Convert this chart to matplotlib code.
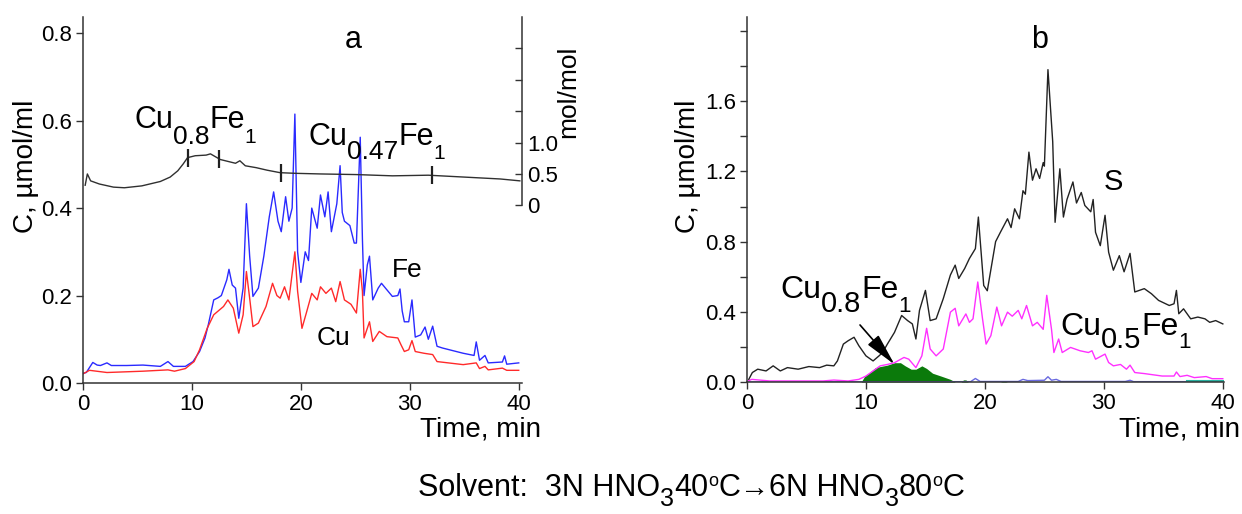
import matplotlib
matplotlib.use('Agg')
import matplotlib.pyplot as plt
import numpy as np

plt.rcParams['font.family'] = ['Liberation Sans', 'DejaVu Sans']

# ---------------- data: panel a ----------------
fe_t = [0.0, 0.3, 0.9, 1.3, 1.6, 2.2, 2.6, 4.0, 5.5, 7.1, 7.8, 8.3, 9.4, 10.1, 10.7, 11.2, 11.5, 12.0, 12.4,
        12.7, 13.2, 13.4, 13.7, 14.0, 14.3, 14.7, 15.0, 15.3, 15.6, 16.1, 16.6, 17.1, 17.5, 17.9, 18.2, 18.6,
        18.9, 19.2, 19.45, 19.7, 20.0, 20.4, 20.7, 21.0, 21.5, 21.8, 22.2, 22.5, 22.8, 23.3, 23.6, 23.8, 24.0,
        24.5, 24.9, 25.1, 25.45, 25.65, 25.8, 26.1, 26.3, 26.6, 27.1, 27.4, 27.9, 28.4, 28.9, 29.1, 29.3, 29.5,
        29.9, 30.2, 30.5, 31.0, 31.4, 31.7, 32.1, 32.5, 33.0, 34.9, 35.9, 36.1, 36.4, 36.9, 37.2, 38.5, 38.7,
        38.9, 40.0]
fe_v = [0.022, 0.024, 0.047, 0.041, 0.040, 0.046, 0.040, 0.040, 0.041, 0.038, 0.049, 0.038, 0.038, 0.049, 0.072,
        0.103, 0.133, 0.19, 0.195, 0.20, 0.236, 0.26, 0.224, 0.217, 0.148, 0.217, 0.41, 0.29, 0.198, 0.217, 0.29,
        0.38, 0.437, 0.37, 0.346, 0.426, 0.37, 0.40, 0.615, 0.30, 0.23, 0.30, 0.28, 0.40, 0.354, 0.43, 0.38, 0.437,
        0.346, 0.41, 0.497, 0.39, 0.37, 0.36, 0.32, 0.32, 0.562, 0.33, 0.20, 0.27, 0.29, 0.19, 0.217, 0.228, 0.213,
        0.198, 0.20, 0.215, 0.165, 0.14, 0.14, 0.19, 0.105, 0.11, 0.128, 0.10, 0.13, 0.084, 0.08, 0.068, 0.063,
        0.094, 0.052, 0.063, 0.046, 0.048, 0.062, 0.043, 0.046]

cu_t = [0.0, 0.6, 2.2, 5.5, 7.8, 8.4, 9.4, 10.2, 10.7, 11.4, 12.0, 12.9, 13.3, 13.8, 14.3, 14.7, 15.0, 15.3, 15.6,
        16.1, 16.8, 17.4, 17.8, 18.1, 18.5, 18.9, 19.45, 19.7, 20.1, 20.5, 21.0, 21.5, 21.8, 22.3, 22.8, 23.2,
        23.6, 24.0, 24.6, 25.1, 25.45, 25.65, 25.8, 26.3, 26.6, 27.2, 27.9, 28.9, 29.2, 29.5, 29.9, 30.2, 30.5,
        31.3, 32.1, 32.5, 34.9, 36.1, 36.4, 36.9, 37.2, 38.5, 38.9, 40.0]
cu_v = [0.021, 0.029, 0.024, 0.027, 0.030, 0.027, 0.033, 0.049, 0.076, 0.125, 0.156, 0.175, 0.19, 0.171, 0.114,
        0.156, 0.255, 0.194, 0.129, 0.137, 0.175, 0.228, 0.20, 0.194, 0.22, 0.19, 0.30, 0.21, 0.125, 0.16, 0.205,
        0.19, 0.22, 0.205, 0.217, 0.186, 0.232, 0.19, 0.18, 0.16, 0.26, 0.21, 0.103, 0.14, 0.095, 0.118, 0.106,
        0.103, 0.087, 0.072, 0.076, 0.097, 0.072, 0.068, 0.065, 0.049, 0.042, 0.046, 0.033, 0.038, 0.030, 0.034,
        0.029, 0.029]

ratio_t = [0.2, 0.4, 0.7, 1.5, 2.8, 3.8, 5.4, 7.1, 8.0, 8.7, 9.2, 9.6, 10.3, 11.3, 11.7, 12.2, 12.6, 13.3, 14.0,
           14.4, 14.9, 15.9, 16.9, 18.1, 19.5, 21.8, 25.1, 28.4, 31.7, 35.0, 38.3, 40.1]
ratio_v = [0.32, 0.50, 0.39, 0.34, 0.29, 0.28, 0.31, 0.38, 0.45, 0.55, 0.66, 0.76, 0.79, 0.80, 0.82, 0.77, 0.73,
           0.70, 0.67, 0.71, 0.63, 0.60, 0.56, 0.52, 0.51, 0.50, 0.49, 0.47, 0.48, 0.45, 0.42, 0.39]
range_marks_t = [9.6, 12.5, 18.2, 32.0]
right_ticks = [0, 0.5, 1.0, 1.5, 2.0, 2.5]
right_labels = ['0', '0.5', '1.0', '', '', '']

# ---------------- data: panel b ----------------
s_t = [0.15, 0.45, 0.9, 1.6, 2.2, 2.8, 3.4, 4.3, 5.2, 6.1, 6.7, 7.3, 7.6, 8.1, 8.5, 9.0, 9.4, 10.0, 10.6, 11.1,
       11.4, 11.8, 12.4, 13.0, 13.5, 13.9, 14.2, 14.5, 15.0, 15.4, 15.9, 16.5, 17.1, 17.5, 17.8, 18.3, 18.7, 19.2,
       19.45, 19.9, 20.2, 20.9, 21.3, 21.9, 22.2, 22.5, 22.9, 23.2, 23.4, 23.7, 24.0, 24.3, 24.6, 24.9, 25.0,
       25.3, 25.7, 25.9, 26.3, 26.6, 26.9, 27.4, 27.7, 28.1, 28.4, 28.9, 29.1, 29.3, 29.7, 30.1, 30.4, 30.8,
       31.3, 31.7, 32.2, 32.6, 33.4, 34.0, 34.6, 35.5, 35.9, 36.1, 36.3, 36.7, 37.3, 37.9, 38.5, 38.9, 39.4, 40.0]
s_v = [0.015, 0.054, 0.073, 0.063, 0.092, 0.063, 0.082, 0.073, 0.088, 0.082, 0.096, 0.092, 0.12, 0.216, 0.235,
       0.255, 0.207, 0.149, 0.12, 0.149, 0.168, 0.216, 0.283, 0.379, 0.35, 0.331, 0.245, 0.408, 0.522, 0.35, 0.36,
       0.475, 0.61, 0.666, 0.59, 0.647, 0.704, 0.76, 0.94, 0.55, 0.52, 0.80, 0.853, 0.93, 0.88, 0.987, 0.93, 1.09,
       1.07, 1.31, 1.15, 1.215, 1.16, 1.25, 1.23, 1.78, 1.37, 0.91, 1.215, 0.94, 1.04, 1.14, 1.02, 1.08, 1.006,
       0.97, 1.04, 0.853, 0.777, 0.95, 0.74, 0.637, 0.72, 0.628, 0.733, 0.513, 0.532, 0.503, 0.465, 0.436, 0.446,
       0.522, 0.389, 0.417, 0.36, 0.37, 0.36, 0.34, 0.35, 0.331]

m_t = [0.1, 0.4, 1.9, 6.4, 7.3, 8.5, 9.4, 10.0, 10.6, 11.2, 11.8, 12.4, 13.2, 13.6, 14.2, 14.7, 15.1, 15.4, 15.9,
       16.5, 17.1, 17.5, 17.8, 18.4, 18.7, 19.0, 19.4, 19.8, 20.1, 20.5, 21.0, 21.4, 21.9, 22.3, 22.8, 23.1, 23.5,
       24.0, 24.4, 24.9, 25.2, 25.6, 25.8, 26.2, 26.5, 27.2, 28.0, 28.7, 29.0, 29.3, 30.1, 30.4, 30.8, 31.4, 31.9,
       32.2, 32.6, 33.4, 34.9, 35.9, 36.1, 36.4, 37.0, 37.6, 38.6, 39.1, 40.0]
m_v = [0.006, 0.015, 0.006, 0.006, 0.011, 0.006, 0.015, 0.034, 0.063, 0.092, 0.10, 0.11, 0.14, 0.13, 0.082, 0.149,
       0.306, 0.188, 0.149, 0.188, 0.398, 0.42, 0.32, 0.388, 0.34, 0.36, 0.57, 0.36, 0.216, 0.264, 0.427, 0.32,
       0.398, 0.375, 0.408, 0.36, 0.436, 0.32, 0.34, 0.30, 0.494, 0.30, 0.168, 0.245, 0.168, 0.197, 0.178, 0.168,
       0.178, 0.13, 0.159, 0.111, 0.092, 0.10, 0.073, 0.096, 0.054, 0.048, 0.034, 0.034, 0.057, 0.031, 0.038,
       0.025, 0.031, 0.019, 0.019]

g_t = [9.6, 9.9, 10.3, 10.8, 11.2, 11.8, 12.4, 12.9, 13.3, 13.8, 14.2, 14.7, 15.1, 15.6, 16.3, 17.1, 17.5, 18.0,
       18.2, 18.4, 18.6, 21.3, 21.6, 21.9]
g_v = [0.0, 0.034, 0.054, 0.082, 0.088, 0.096, 0.11, 0.11, 0.092, 0.073, 0.073, 0.092, 0.077, 0.05, 0.034, 0.015,
       0.0, 0.0, 0.012, 0.012, 0.0, 0.0, 0.006, 0.0]

bl_t = [0.0, 18.8, 19.2, 19.6, 22.8, 23.2, 23.6, 25.0, 25.3, 25.6, 26.0, 26.4, 31.8, 32.2, 32.5, 37.0]
bl_v = [0.0, 0.002, 0.02, 0.003, 0.003, 0.015, 0.008, 0.01, 0.03, 0.01, 0.015, 0.003, 0.003, 0.01, 0.002, 0.002]
teal_t = [37.0, 40.0]
teal_v = [0.003, 0.003]

W, H = 1242, 514
fig = plt.figure(figsize=(W / 100, H / 100), dpi=100)


def fx(p):
    return p / W


def fy(p):
    return 1 - p / H


SP = '#333333'
axA = fig.add_axes([fx(83), fy(383), (522 - 83) / W, (383 - 17) / H])
axB = fig.add_axes([fx(747), fy(382), (1224 - 747) / W, (382 - 17) / H])

for ax in (axA, axB):
    for s in ('top', 'right'):
        ax.spines[s].set_visible(False)
    for s in ('left', 'bottom'):
        ax.spines[s].set_color(SP)
        ax.spines[s].set_linewidth(1.1)
    ax.tick_params(direction='out', length=5, width=1.0, color=SP, labelsize=16, pad=3)
    ax.set_xticks([0, 10, 20, 30, 40])
    ax.patch.set_alpha(0)

# panel a
axA.plot(fe_t, fe_v, color='#2a2aff', lw=1.0)
axA.plot(cu_t, cu_v, color='#ff2a2a', lw=1.0)
axA.set_xlim(0, 40.3)
axA.set_ylim(0, 0.837)
axA.set_yticks([0.0, 0.2, 0.4, 0.6, 0.8])
axA.set_yticklabels(['0.0', '0.2', '0.4', '0.6', '0.8'])

ax2 = axA.twinx()
ax2.set_position(axA.get_position())
ax2.plot(ratio_t, ratio_v, color='#303030', lw=1.0)
ax2.plot(range_marks_t, np.interp(range_marks_t, ratio_t, ratio_v), ls='none', marker='|', ms=13, mew=1.6,
         color='#202020')
ax2.set_ylim(-2.83, 3.0)
for s in ('top', 'left', 'bottom'):
    ax2.spines[s].set_visible(False)
ax2.spines['right'].set_bounds(0, 3.0)
ax2.spines['right'].set_color(SP)
ax2.spines['right'].set_linewidth(1.1)
ax2.set_yticks(right_ticks)
ax2.set_yticklabels(right_labels)
ax2.tick_params(axis='y', direction='in', length=5, width=1.0, color=SP, labelsize=16, pad=4)

# panel b
axB.fill_between(g_t, 0, g_v, color='#0b7a0b', lw=0)
axB.plot(bl_t, bl_v, color='#6a6ae0', lw=1.0)
axB.plot(teal_t, teal_v, color='#2ab0a0', lw=1.5)
axB.plot(m_t, m_v, color='#ff30ff', lw=1.0)
axB.plot(s_t, s_v, color='#222222', lw=1.0)
axB.set_xlim(0, 40.1)
axB.set_ylim(0, 2.08)
axB.set_yticks(np.arange(0, 2.01, 0.2))
axB.set_yticklabels(['0.0', '', '0.4', '', '0.8', '', '1.2', '', '1.6', '', ''])
axB.annotate('', xy=(12.4, 0.10), xytext=(9.5, 0.325),
             arrowprops=dict(arrowstyle='-|>,head_length=1.0,head_width=0.22', color='black', lw=1.2,
                             mutation_scale=20, shrinkA=0, shrinkB=0))

# plain texts
fig.text(fx(353), fy(48), 'a', fontsize=22, ha='center', va='baseline')
fig.text(fx(1040), fy(48), 'b', fontsize=22, ha='center', va='baseline')
fig.text(fx(541), fy(437), 'Time, min', fontsize=20, ha='right', va='baseline')
fig.text(fx(1240), fy(437), 'Time, min', fontsize=20, ha='right', va='baseline')
fig.text(fx(26), fy(166), 'C, \u00b5mol/ml', fontsize=20, rotation=90, ha='center', va='center')
fig.text(fx(688), fy(166), 'C, \u00b5mol/ml', fontsize=20, rotation=90, ha='center', va='center')
fig.text(fx(568), fy(92), 'mol/mol', fontsize=19, rotation=90, ha='center', va='center')
fig.text(fx(392), fy(277), 'Fe', fontsize=19, ha='left', va='baseline')
fig.text(fx(317), fy(345), 'Cu', fontsize=19, ha='left', va='baseline')
fig.text(fx(1104), fy(190), 'S', fontsize=21, ha='left', va='baseline')

D = 0.21


def chain(x, y, pieces):
    """Place text pieces one after another; pieces: (text, baseline shift down in px, fontsize)."""
    t0, d0, s0 = pieces[0]
    prev = fig.text(fx(x), fy(y + d0), t0, fontsize=s0, ha='left', va='baseline')
    pd, ps = d0, s0
    for txt, d, s in pieces[1:]:
        off = -(d - pd) * 0.72 + D * (ps - s)
        prev = axA.annotate(txt, xy=(1, 0), xycoords=prev, xytext=(0, off),
                            textcoords='offset points', fontsize=s, ha='left', va='bottom',
                            annotation_clip=False)
        pd, ps = d, s
    return prev


chain(134, 128, [('Cu', 0, 22), ('0.8', 15, 19), ('Fe', 0, 22), ('1', 14, 15)])
chain(308, 145, [('Cu', 0, 22), ('0.47', 13, 19), ('Fe', 0, 22), ('1', 13, 15)])
chain(780, 298, [('Cu', 0, 23), ('0.8', 14, 21), ('Fe', 0, 23), ('1', 14, 16)])
chain(1060, 335, [('Cu', 0, 23), ('0.5', 13, 21), ('Fe', 0, 23), ('1', 13, 16)])

# solvent line
chain(418, 496, [('Solvent:  3N HNO', 0, 22), ('3', 9, 18), ('40', 0, 22), ('o', -10, 13), ('C', 0, 22),
                 ('\u2192', 0, 21), ('6N HNO', 0, 22), ('3', 9, 18), ('80', 0, 22), ('o', -10, 13),
                 ('C', 0, 22)])

fig.savefig('out.png', dpi=100)
